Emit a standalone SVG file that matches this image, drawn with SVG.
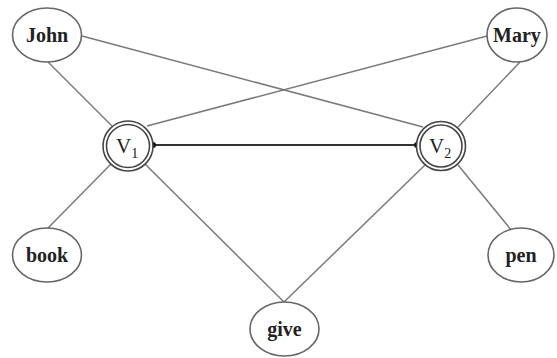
<svg xmlns="http://www.w3.org/2000/svg" width="557" height="358" viewBox="0 0 557 358">
<style>
.edge{stroke:#7a7a7a;stroke-width:1.5;fill:none}
.main{stroke:#333;stroke-width:2;fill:none}
.node{fill:#fff;stroke:#666;stroke-width:1.6}
.ring{fill:#fff;stroke:#444;stroke-width:1.6}
.lbl{font-family:"Liberation Serif","Times New Roman",serif;font-size:20px;font-weight:bold;fill:#222;text-anchor:middle}
.v{font-family:"Liberation Serif","Times New Roman",serif;font-size:21px;fill:#222}
.sub{font-size:14px}
</style>
<rect width="557" height="358" fill="#fff"/>
<g id="connectors">
<line class="edge" x1="48" y1="62" x2="112" y2="126"/>
<line class="edge" x1="82" y1="36" x2="423" y2="127"/>
<line class="edge" x1="487" y1="36" x2="147" y2="126"/>
<line class="edge" x1="520" y1="62" x2="458" y2="127"/>
<line class="edge" x1="111" y1="164" x2="48" y2="228"/>
<line class="edge" x1="145" y1="164" x2="284" y2="302"/>
<line class="edge" x1="425" y1="165" x2="284" y2="302"/>
<line class="edge" x1="458" y1="165" x2="512" y2="231"/>
<line class="main" x1="153" y1="145" x2="417" y2="145"/>
<circle cx="153" cy="145" r="3" fill="#111"/>
<circle cx="417" cy="145" r="3" fill="#111"/>
</g>
<g id="john"><ellipse class="node" cx="47" cy="35" rx="34.5" ry="27"/><text class="lbl" x="47" y="42">John</text></g>
<g id="mary"><ellipse class="node" cx="517" cy="35" rx="30" ry="27"/><text class="lbl" x="517" y="42">Mary</text></g>
<g id="book"><ellipse class="node" cx="47" cy="255" rx="34.5" ry="27"/><text class="lbl" x="47" y="262">book</text></g>
<g id="pen"><ellipse class="node" cx="521" cy="255" rx="33" ry="27"/><text class="lbl" x="521" y="262">pen</text></g>
<g id="give"><ellipse class="node" cx="284.5" cy="329" rx="34.5" ry="27"/><text class="lbl" x="284.5" y="336">give</text></g>
<g id="v1"><circle class="ring" cx="128" cy="146" r="25"/><circle class="ring" cx="128" cy="146" r="21.5"/><text class="v" x="116" y="153">V<tspan class="sub" dy="5">1</tspan></text></g>
<g id="v2"><circle class="ring" cx="441" cy="146" r="24.5"/><circle class="ring" cx="441" cy="146" r="21"/><text class="v" x="429" y="153">V<tspan class="sub" dy="5">2</tspan></text></g>
</svg>
